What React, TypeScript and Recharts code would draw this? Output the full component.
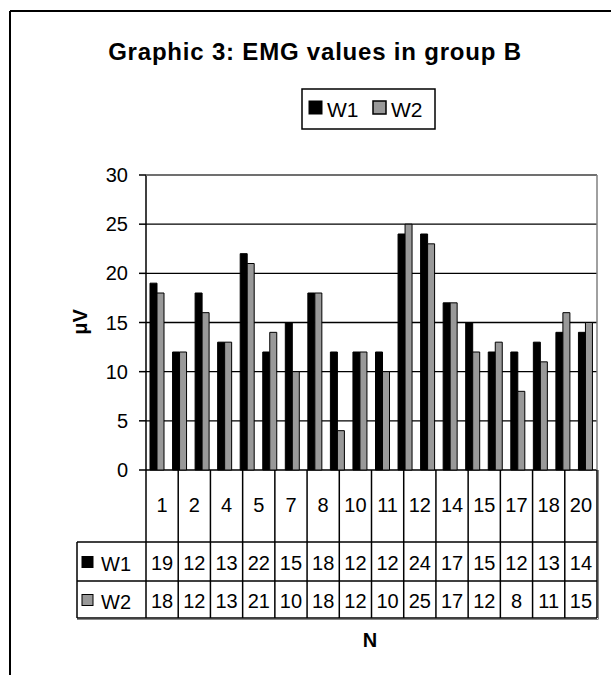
import React from "react";
import { BarChart, Bar, XAxis, YAxis, CartesianGrid } from "recharts";

// bars: all 20 patients
const patients = ["1", "2", "3", "4", "5", "6", "7", "8", "9", "10", "11", "12", "13", "14", "15", "16", "17", "18", "19", "20"];
const w1Values = [19, 12, 18, 13, 22, 12, 15, 18, 12, 12, 12, 24, 24, 17, 15, 12, 12, 13, 14, 14];
const w2Values = [18, 12, 16, 13, 21, 14, 10, 18, 4, 12, 10, 25, 23, 17, 12, 13, 8, 11, 16, 15];

// data table under the axis (only some patients are listed)
const tableLabels = ["1", "2", "4", "5", "7", "8", "10", "11", "12", "14", "15", "17", "18", "20"];
const tableW1 = [19, 12, 13, 22, 15, 18, 12, 12, 24, 17, 15, 12, 13, 14];
const tableW2 = [18, 12, 13, 21, 10, 18, 12, 10, 25, 17, 12, 8, 11, 15];

const yTicks = [0, 5, 10, 15, 20, 25, 30];

const W = 611;
const H = 675;
const PLOT = { left: 146, right: 597, top: 175, bottom: 470 };
const Y_AXIS_W = 60;
const FONT = "Arial, 'Liberation Sans', sans-serif";
const GREY = "#999999";

const data = patients.map((p, i) => ({ patient: p, W1: w1Values[i], W2: w2Values[i] }));

function DataTable() {
  const colW = (PLOT.right - PLOT.left) / tableLabels.length;
  const rowW1 = 542;
  const rowW2 = 581;
  const bottom = 618;
  const legendLeft = 77;
  const rows = [
    { name: "W1", values: tableW1, fill: "#000", top: rowW1, h: rowW2 - rowW1 },
    { name: "W2", values: tableW2, fill: GREY, top: rowW2, h: bottom - rowW2 },
  ];
  return (
    <g fontFamily={FONT} fontSize={20} fill="#000">
      {tableLabels.map((_, i) => (
        <line key={`v${i}`} x1={PLOT.left + i * colW} x2={PLOT.left + i * colW} y1={PLOT.bottom} y2={bottom} stroke="#000" strokeWidth={1.5} />
      ))}
      <line x1={PLOT.right} x2={PLOT.right} y1={PLOT.bottom} y2={bottom} stroke="#000" strokeWidth={1.5} />
      <line x1={legendLeft} x2={legendLeft} y1={rowW1} y2={bottom} stroke="#000" strokeWidth={1.5} />
      {[rowW1, rowW2, bottom].map((y) => (
        <line key={`h${y}`} x1={legendLeft} x2={PLOT.right} y1={y} y2={y} stroke="#000" strokeWidth={1.5} />
      ))}
      <line x1={legendLeft} x2={PLOT.right + 1} y1={bottom + 1.5} y2={bottom + 1.5} stroke="#888" />
      <line x1={PLOT.right + 1.5} x2={PLOT.right + 1.5} y1={PLOT.bottom} y2={bottom + 1.5} stroke="#888" />
      {tableLabels.map((l, i) => (
        <text key={`l${i}`} x={PLOT.left + (i + 0.5) * colW} y={512} textAnchor="middle">{l}</text>
      ))}
      {rows.map((r) => (
        <g key={r.name}>
          <rect x={legendLeft + 5} y={r.top + r.h / 2 - 5} width={11} height={11} fill={r.fill} stroke="#000" />
          <text x={legendLeft + 24} y={r.top + r.h / 2 + 9}>{r.name}</text>
          {r.values.map((v, i) => (
            <text key={i} x={PLOT.left + (i + 0.5) * colW} y={r.top + r.h / 2 + 8} textAnchor="middle">{v}</text>
          ))}
        </g>
      ))}
    </g>
  );
}

function Overlay() {
  return (
    <svg width={W} height={H} style={{ position: "absolute", left: 0, top: 0, pointerEvents: "none" }}>
      {/* outer frame */}
      <line x1={10} x2={W} y1={11} y2={11} stroke="#000" strokeWidth={2} />
      <line x1={10} x2={10} y1={11} y2={H} stroke="#000" strokeWidth={2} />
      <text x={315} y={60} textAnchor="middle" fontFamily={FONT} fontSize={24} fontWeight="bold" letterSpacing={0.8}>
        Graphic 3: EMG values in group B
      </text>
      {/* legend */}
      <g fontFamily={FONT} fontSize={21}>
        <rect x={302} y={89} width={133} height={40} fill="#fff" stroke="#000" strokeWidth={1.5} />
        <rect x={309} y={101} width={13} height={13} fill="#000" stroke="#000" />
        <text x={327} y={117}>W1</text>
        <rect x={373} y={101} width={13} height={13} fill={GREY} stroke="#000" strokeWidth={1.5} />
        <text x={391} y={117}>W2</text>
      </g>
      {/* plot area border */}
      <line x1={PLOT.left} x2={PLOT.right} y1={PLOT.top} y2={PLOT.top} stroke="#808080" strokeWidth={1.5} />
      <line x1={PLOT.right} x2={PLOT.right} y1={PLOT.top} y2={PLOT.bottom} stroke="#808080" strokeWidth={1.5} />
      <text transform={`translate(87, 322) rotate(-90)`} textAnchor="middle" fontFamily={FONT} fontSize={20} fontWeight="bold">
        μV
      </text>
      <text x={370} y={647} textAnchor="middle" fontFamily={FONT} fontSize={20} fontWeight="bold">
        N
      </text>
      <DataTable />
    </svg>
  );
}

export default function App() {
  return (
    <div style={{ position: "absolute", left: 0, top: 0, width: W, height: H, background: "#fff" }}>
      <BarChart
        width={W}
        height={H}
        data={data}
        margin={{ top: PLOT.top, right: W - PLOT.right, bottom: H - PLOT.bottom, left: PLOT.left - Y_AXIS_W }}
        barGap={0}
        barSize={7}
      >
        <CartesianGrid horizontal vertical={false} stroke="#000" strokeWidth={1.3} />
        <XAxis dataKey="patient" hide />
        <YAxis
          width={Y_AXIS_W}
          domain={[0, 30]}
          ticks={yTicks}
          interval={0}
          tick={{ fontSize: 20, fill: "#000", fontFamily: FONT }}
          axisLine={{ stroke: "#000", strokeWidth: 1.5 }}
          tickLine={{ stroke: "#000", strokeWidth: 1.5 }}
          tickSize={7}
          tickMargin={11}
        />
        <Bar dataKey="W1" fill="#000" stroke="#000" strokeWidth={1} isAnimationActive={false} />
        <Bar dataKey="W2" fill={GREY} stroke="#000" strokeWidth={1} isAnimationActive={false} />
      </BarChart>
      <Overlay />
    </div>
  );
}
